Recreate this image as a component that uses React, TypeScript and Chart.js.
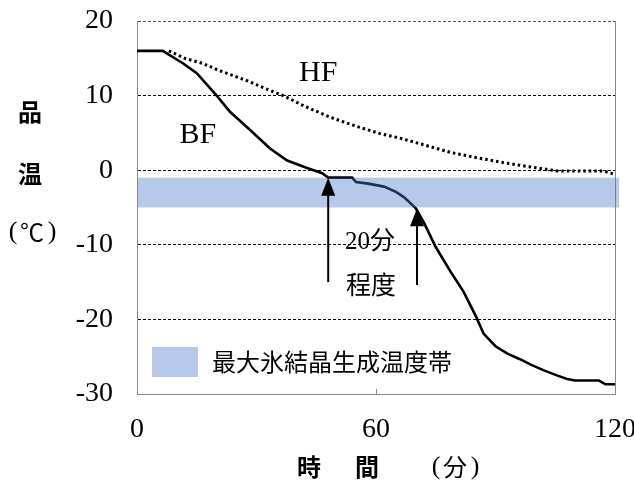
import React, { useEffect, useRef } from "react";
import { Chart, registerables } from "chart.js";
Chart.register(...registerables);

// Brine freezing (BF) product temperature, time in minutes
const bfTime = [0, 6.5, 8.3, 11.6, 15, 20, 23.4, 28.4, 33.4, 37.7, 42.7, 46.5, 48, 54, 55, 58, 62, 65, 67, 70, 72, 75, 78.6, 82, 85, 87, 90, 93, 96, 99, 102, 105.4, 108, 110, 116, 117.6, 120];
const bfTemp = [16, 16, 15.4, 14.3, 13, 10, 7.8, 5.4, 2.9, 1.3, 0.3, -0.4, -1, -1, -1.6, -1.8, -2.2, -2.9, -3.6, -5.1, -7, -10.3, -13.5, -16.3, -19.5, -21.9, -23.6, -24.6, -25.3, -26.1, -26.8, -27.5, -28, -28.2, -28.2, -28.7, -28.7];
// Air blast freezing (HF) product temperature
const hfTime = [8, 12, 16.6, 20, 24, 27.6, 32, 36.7, 42, 48.5, 55, 61, 66, 72, 78.6, 85, 91, 98, 105.5, 110, 117, 119.6];
const hfTemp = [16, 15, 14.3, 13.5, 12.7, 12, 11, 10, 8.6, 7.1, 5.9, 4.9, 4.3, 3.4, 2.4, 1.7, 1.1, 0.5, -0.1, -0.1, -0.1, -0.5];

const yTicks = [20, 10, 0, -10, -20, -30];
const xTicks = [0, 60, 120];
const bandRange = [-1, -5];
const arrowTimes = [48, 70.3];
const arrowTips = [-1, -5.1];
const arrowTails = [-15, -15.4];
const seriesNames = ["BF", "HF"];
const legendText = "最大氷結晶生成温度帯";
const noteLines = ["20分", "程度"];

const SERIF = "'Liberation Serif', 'Times New Roman', serif";
const CJK = "'Liberation Serif', 'Noto Sans CJK JP', sans-serif";
const BAND = "rgba(75,120,200,0.4)";

const overlay = {
  id: "overlay",
  afterDatasetsDraw(chart: any) {
    const { ctx, chartArea } = chart;
    const xs = chart.scales.x;
    const ys = chart.scales.y;
    ctx.save();
    // right border
    ctx.strokeStyle = "#888";
    ctx.lineWidth = 1;
    ctx.beginPath();
    ctx.moveTo(chartArea.right + 0.5, chartArea.top);
    ctx.lineTo(chartArea.right + 0.5, chartArea.bottom);
    ctx.stroke();
    // inner tick at 60
    ctx.beginPath();
    const x60 = Math.round(xs.getPixelForValue(xTicks[1])) + 0.5;
    ctx.moveTo(x60, chartArea.bottom);
    ctx.lineTo(x60, chartArea.bottom - 5);
    ctx.stroke();

    // band
    const yb1 = ys.getPixelForValue(bandRange[0]);
    const yb2 = ys.getPixelForValue(bandRange[1]);
    ctx.fillStyle = BAND;
    ctx.fillRect(chartArea.left + 1, yb1, chartArea.right - chartArea.left + 3, yb2 - yb1);

    // arrows
    ctx.strokeStyle = "#000";
    ctx.fillStyle = "#000";
    for (let i = 0; i < arrowTimes.length; i++) {
      const ax = xs.getPixelForValue(arrowTimes[i]);
      const tip = ys.getPixelForValue(arrowTips[i]);
      const tail = ys.getPixelForValue(arrowTails[i]);
      ctx.lineWidth = 2;
      ctx.beginPath();
      ctx.moveTo(ax, tail);
      ctx.lineTo(ax, tip + 14);
      ctx.stroke();
      ctx.beginPath();
      ctx.moveTo(ax, tip);
      ctx.lineTo(ax - 7, tip + 18);
      ctx.lineTo(ax + 7, tip + 18);
      ctx.closePath();
      ctx.fill();
    }

    // series labels
    ctx.fillStyle = "#000";
    ctx.textBaseline = "middle";
    ctx.textAlign = "center";
    ctx.font = `30px ${SERIF}`;
    ctx.fillText(seriesNames[1], xs.getPixelForValue(45.5), ys.getPixelForValue(13));
    ctx.fillText(seriesNames[0], xs.getPixelForValue(15.3), ys.getPixelForValue(4.7));

    // note
    ctx.font = `25px ${CJK}`;
    ctx.textAlign = "left";
    ctx.fillText(noteLines[0], 345, 242);
    ctx.fillText(noteLines[1], 346, 287);

    // legend
    ctx.fillStyle = BAND;
    ctx.fillRect(152, 347, 46, 30);
    ctx.fillStyle = "#000";
    ctx.font = `24px 'Noto Sans CJK JP', sans-serif`;
    ctx.fillText(legendText, 212, 362);

    // y title
    ctx.textAlign = "center";
    ctx.font = `bold 24px 'Noto Sans CJK JP', sans-serif`;
    ctx.fillText("品", 30, 112);
    ctx.fillText("温", 30, 174);
    ctx.font = `26px ${SERIF}`;
    ctx.fillText("(", 13, 232);
    ctx.fillText(")", 52, 232);
    ctx.font = `24px 'Noto Sans CJK JP', sans-serif`;
    ctx.fillText("℃", 32, 232);

    // x title
    ctx.font = `bold 24px 'Noto Sans CJK JP', sans-serif`;
    ctx.fillText("時", 309, 467);
    ctx.fillText("間", 367, 467);
    ctx.font = `24px 'Noto Sans CJK JP', sans-serif`;
    ctx.fillText("分", 455, 467);
    ctx.font = `26px ${SERIF}`;
    ctx.fillText("(", 436, 467);
    ctx.fillText(")", 475, 467);
    ctx.restore();
  },
};

export default function App() {
  const ref = useRef<HTMLCanvasElement | null>(null);
  useEffect(() => {
    if (!ref.current) return;
    const chart = new Chart(ref.current, {
      type: "line",
      data: {
        datasets: [
          {
            label: seriesNames[0],
            data: bfTime.map((t, i) => ({ x: t, y: bfTemp[i] })),
            borderColor: "#000",
            borderWidth: 2.6,
            pointRadius: 0,
            tension: 0,
          },
          {
            label: seriesNames[1],
            data: hfTime.map((t, i) => ({ x: t, y: hfTemp[i] })),
            borderColor: "#000",
            borderWidth: 3,
            borderDash: [2.5, 3],
            pointRadius: 0,
            tension: 0,
          },
        ],
      },
      options: {
        animation: false,
        responsive: false,
        devicePixelRatio: 1,
        layout: { padding: { left: 0, right: 19, top: 21, bottom: 0 } },
        plugins: { legend: { display: false }, tooltip: { enabled: false } },
        scales: {
          x: {
            type: "linear",
            min: xTicks[0],
            max: xTicks[2],
            afterBuildTicks: (s: any) => {
              s.ticks = xTicks.map((v) => ({ value: v }));
            },
            afterFit: (s: any) => {
              s.height = 86;
              s.paddingLeft = 0;
              s.paddingRight = 0;
            },
            grid: { display: false, drawTicks: false },
            border: { display: true, color: "#888", width: 1 },
            ticks: {
              color: "#000",
              font: { family: SERIF, size: 28 },
              padding: 19,
              maxRotation: 0,
              autoSkip: false,
            },
          },
          y: {
            min: yTicks[5],
            max: yTicks[0],
            afterBuildTicks: (s: any) => {
              s.ticks = yTicks.slice().reverse().map((v) => ({ value: v }));
            },
            afterFit: (s: any) => {
              s.width = 137;
              s.paddingTop = 0;
              s.paddingBottom = 0;
            },
            grid: {
              drawTicks: false,
              color: (c: any) => {
                const v = c.tick ? c.tick.value : 0;
                if (v === yTicks[5]) return "rgba(0,0,0,0)";
                if (v === yTicks[0]) return "#555";
                return "#000";
              },
              lineWidth: 1,
            },
            border: { display: true, color: "#888", width: 1, dash: [3, 2] },
            ticks: {
              color: "#000",
              font: { family: SERIF, size: 28 },
              padding: 24,
              autoSkip: false,
            },
          },
        },
      },
      plugins: [overlay],
    });
    return () => chart.destroy();
  }, []);
  return (
    <div style={{ position: "fixed", left: 0, top: 0, width: 634, height: 480, background: "#fff" }}>
      <canvas ref={ref} width={634} height={480} style={{ width: 634, height: 480 }} />
    </div>
  );
}
